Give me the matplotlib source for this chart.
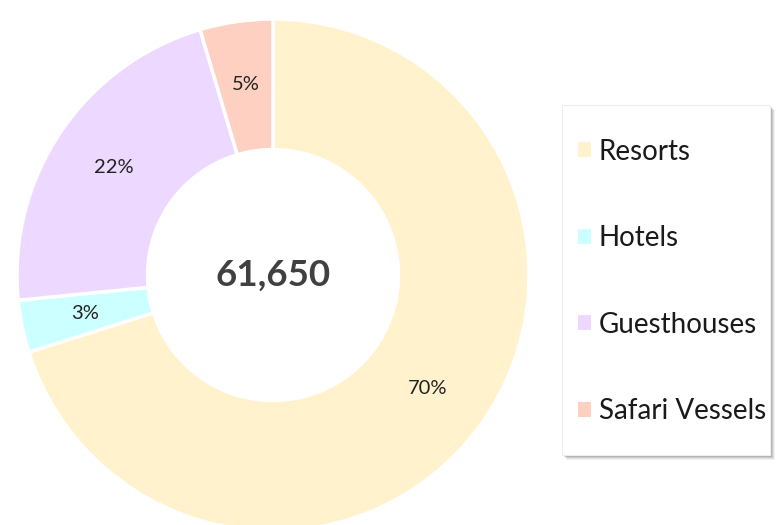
import matplotlib.pyplot as plt
from matplotlib.patches import Patch, Rectangle

# Dados do gráfico
categories = ['Resorts', 'Hotels', 'Guesthouses', 'Safari Vessels']
shares = [70.2, 3.3, 22.0, 4.6]
colors = ['#FFF2CC', '#CCFFFF', '#EDD9FF', '#FDD0C2']
total_label = '61,650'

plt.rcParams['font.family'] = ['Lato', 'DejaVu Sans']

fig = plt.figure(figsize=(7.76, 5.25), dpi=100)
W, H = 776, 525
# eixo do donut: centro em (273, 275) px, raio 256 px
cx, cy, r = 273, 275, 256
ax = fig.add_axes([(cx - r) / W, (H - cy - r) / H, 2 * r / W, 2 * r / H])

wedges, texts, autotexts = ax.pie(
    shares, colors=colors, startangle=90, counterclock=False,
    radius=1, autopct='%1.0f%%', pctdistance=0.75,
    wedgeprops=dict(width=0.51, edgecolor='white', linewidth=2.5),
    textprops=dict(fontsize=14.5, color='#222222'))
ax.set_xlim(-1, 1)
ax.set_ylim(-1, 1)
ax.set_aspect('equal')
ax.axis('off')

ax.text(0, 0, total_label, ha='center', va='center', fontsize=26.5,
        fontweight='bold', color='#404040')

# Caixa da legenda com sombra suave
bx0, by0, bx1, by1 = 562, 105, 770, 455
for i, a in enumerate([0.05, 0.07, 0.09, 0.12]):
    off = 5 - i
    fig.patches.append(Rectangle(
        ((bx0 + off) / W, (H - by1 - off) / H), (bx1 - bx0) / W, (by1 - by0) / H,
        transform=fig.transFigure, facecolor='black', alpha=a,
        edgecolor='none', zorder=1))
fig.patches.append(Rectangle(
    (bx0 / W, (H - by1) / H), (bx1 - bx0) / W, (by1 - by0) / H,
    transform=fig.transFigure, facecolor='white', edgecolor='#eeeeee',
    linewidth=0.8, zorder=2))

handles = [Patch(facecolor=c, edgecolor='none') for c in colors]
leg = fig.legend(handles, categories, loc='center left',
                 bbox_to_anchor=(578 / W, 1 - 281.5 / H),
                 fontsize=20, frameon=False,
                 labelspacing=2.18, handlelength=0.45, handleheight=0.45,
                 handletextpad=0.3, borderpad=0, borderaxespad=0)
leg.set_zorder(3)
for t in leg.get_texts():
    t.set_color('#1a1a1a')

fig.savefig('out.png', dpi=100)
